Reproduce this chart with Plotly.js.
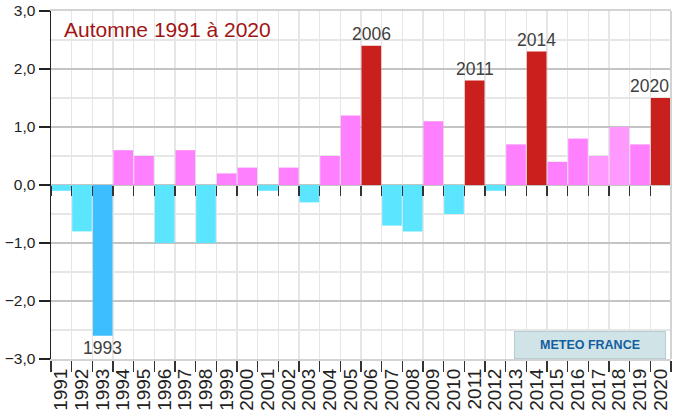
<!DOCTYPE html>
<html>
<head>
<meta charset="utf-8">
<script src="https://cdn.plot.ly/plotly-3.0.1.min.js"></script>
<style>
  html, body { margin: 0; padding: 0; background: #fff; }
  #chart { width: 674px; height: 420px; }
</style>
</head>
<body>
<div id="chart"></div>
<script>
// ---- data ----
const years = ['1991','1992','1993','1994','1995','1996','1997','1998','1999','2000',
               '2001','2002','2003','2004','2005','2006','2007','2008','2009','2010',
               '2011','2012','2013','2014','2015','2016','2017','2018','2019','2020'];
const anomalies = [-0.1, -0.8, -2.6, 0.6, 0.5, -1.0, 0.6, -1.0, 0.2, 0.3,
                   -0.1, 0.3, -0.3, 0.5, 1.2, 2.4, -0.7, -0.8, 1.1, -0.5,
                   1.8, -0.1, 0.7, 2.3, 0.4, 0.8, 0.5, 1.0, 0.7, 1.5];
const labelledYears = ['1993', '2006', '2011', '2014', '2020'];
const lighterYears = ['2017', '2018'];
const yTickValues = [-3, -2, -1, 0, 1, 2, 3];
const titleText = 'Automne 1991 à 2020';
const logoText = 'METEO FRANCE';

// ---- styling helpers ----
const FONT = 'Liberation Sans, Arial, sans-serif';
function barColor(year, v) {
  if (v >= 1.5) return '#C9201E';
  if (v <= -2) return '#3DBFFF';
  if (v < 0) return '#5CE5FF';
  if (lighterYears.includes(year)) return '#FF99FF';
  return '#FF80FF';
}
const colors = years.map((y, i) => barColor(y, anomalies[i]));
const idx = years.map((_, i) => i);

const bars = {
  type: 'bar',
  x: years,
  y: anomalies,
  marker: { color: colors, line: { width: 0 } },
  hoverinfo: 'x+y',
  xaxis: 'x',
  yaxis: 'y'
};
// invisible companion trace so the zero-line tick axis (x2) is drawn
const zeroTicksCarrier = {
  type: 'scatter', mode: 'none',
  x: idx, y: anomalies,
  xaxis: 'x2', yaxis: 'y',
  hoverinfo: 'skip', showlegend: false
};

const annotations = [];
labelledYears.forEach(yr => {
  const i = years.indexOf(yr);
  const v = anomalies[i];
  const last = i === years.length - 1;
  annotations.push({
    x: last ? i + 0.5 : i, y: v, xref: 'x', yref: 'y',
    xanchor: last ? 'right' : 'center',
    text: yr, showarrow: false,
    yanchor: v >= 0 ? 'bottom' : 'top',
    font: { family: FONT, size: 17.5, color: '#404040' }
  });
});
annotations.push({
  xref: 'paper', yref: 'paper', x: 0.018, y: 0.948,
  xanchor: 'left', yanchor: 'middle',
  text: titleText, showarrow: false,
  font: { family: FONT, size: 21, color: '#A21414' }
});
annotations.push({
  xref: 'paper', yref: 'paper', x: 0.747, y: 0,
  xanchor: 'left', yanchor: 'bottom',
  text: '<b>' + logoText + '</b>', showarrow: false,
  width: 150, height: 26, borderpad: 0, borderwidth: 1,
  bgcolor: '#D0E3E7', bordercolor: '#B4CCD2',
  font: { family: FONT, size: 12.5, color: '#125E9E' }
});

const layout = {
  width: 674, height: 420,
  margin: { l: 51, r: 3, t: 11, b: 61 },
  paper_bgcolor: '#ffffff',
  plot_bgcolor: '#ffffff',
  separators: ', ',
  showlegend: false,
  bargap: 0.05,
  font: { family: FONT, color: '#222' },
  xaxis: {
    type: 'category',
    categoryorder: 'array', categoryarray: years,
    range: [-0.5, years.length - 0.5],
    autorange: false,
    tickmode: 'array', tickvals: years, ticktext: years,
    tickson: 'boundaries',
    ticks: 'outside', ticklen: 11, tickwidth: 1.5, tickcolor: '#333',
    tickangle: -90,
    tickfont: { family: FONT, size: 19, color: '#222' },
    showgrid: true, gridcolor: '#E6E6E6', gridwidth: 1.2,
    showline: true, linecolor: '#D3D3D3', linewidth: 2, mirror: true,
    zeroline: false,
    fixedrange: true
  },
  xaxis2: {
    type: 'linear',
    overlaying: 'x',
    anchor: 'free',
    position: 0.5,
    range: [-0.5, years.length - 0.5],
    autorange: false,
    tickmode: 'linear', tick0: -0.5, dtick: 1,
    ticks: 'outside', ticklen: 10, tickwidth: 1.5, tickcolor: '#333',
    showticklabels: false,
    showgrid: false, showline: false, zeroline: false,
    fixedrange: true
  },
  yaxis: {
    range: [-3, 3],
    autorange: false,
    tickmode: 'array', tickvals: yTickValues,
    tickformat: '.1f',
    ticks: 'outside', ticklen: 11, tickwidth: 1.5, tickcolor: '#222',
    tickfont: { family: FONT, size: 15.5, color: '#222' },
    showgrid: true, gridcolor: '#C4C4C4', gridwidth: 1.2,
    minor: { dtick: 0.5, showgrid: true, gridcolor: '#E6E6E6', gridwidth: 1.2 },
    zeroline: true, zerolinecolor: '#C4C4C4', zerolinewidth: 1.2,
    showline: true, linecolor: '#222', linewidth: 1.5,
    fixedrange: true
  },
  shapes: [{
    type: 'line', xref: 'paper', yref: 'paper',
    x0: 1, x1: 1, y0: 0, y1: 1,
    line: { color: '#D3D3D3', width: 2 }, layer: 'above'
  }],
  annotations: annotations
};

Plotly.newPlot('chart', [bars, zeroTicksCarrier], layout, { displayModeBar: false, staticPlot: true });
</script>
</body>
</html>
